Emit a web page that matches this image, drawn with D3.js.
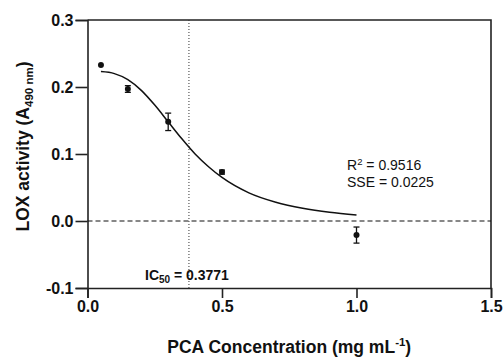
<!doctype html>
<html lang="en">
<head>
  <meta charset="utf-8">
  <script src="https://cdnjs.cloudflare.com/ajax/libs/d3/7.8.5/d3.min.js"></script>
  <style type="text/css">
    body {
      padding: 0;
      margin: 0;
      background: #fff;
    }
    svg text {
      font-family: "Liberation Sans", Arial, sans-serif;
    }
  </style>
</head>
<body>
<svg id="canvas" width="504" height="359"></svg>
<script>

// measured points (mean, sd)
var conc = [0.05, 0.15, 0.3, 0.5, 1.0];
var activity = [0.233, 0.197, 0.148, 0.073, -0.021];
var sd = [0.0, 0.005, 0.013, 0.003, 0.012];

// fitted curve
var fitX = [0.05, 0.1, 0.15, 0.2, 0.25, 0.3, 0.35, 0.4, 0.45, 0.5, 0.6, 0.7, 0.8, 0.9, 1.0];
var fitY = [0.223, 0.220, 0.211, 0.195, 0.173, 0.148, 0.123, 0.100, 0.081, 0.065, 0.042, 0.028, 0.019, 0.013, 0.009];

var xTicks = [0, 0.5, 1.0, 1.5];
var yTicks = [-0.1, 0, 0.1, 0.2, 0.3];
var ic50 = 0.3771;

var svg = d3.select('#canvas');

// plot box (window.top is reserved, so use own names)
var plotL = 87.5, plotR = 491, plotT = 20, plotB = 288;
var x = d3.scaleLinear().domain([0, 1.5]).range([plotL, plotR]);
var y = d3.scaleLinear().domain([-0.1, 0.3]).range([plotB, plotT]);

var axisColor = '#222';
function fmt(d) { return d3.format('.1f')(d).replace('\u2212', '-'); }

// axes
var xAxis = svg.append('g')
  .attr('transform', 'translate(0,' + plotB + ')')
  .call(d3.axisBottom(x).tickValues(xTicks).tickFormat(fmt).tickSize(10).tickPadding(3));
var yAxis = svg.append('g')
  .attr('transform', 'translate(' + plotL + ',0)')
  .call(d3.axisLeft(y).tickValues(yTicks).tickFormat(fmt).tickSize(12).tickPadding(2));

[xAxis, yAxis].forEach(function(g) {
  g.select('.domain').attr('stroke', axisColor).attr('stroke-width', 1.6);
  g.selectAll('.tick line').attr('stroke', axisColor).attr('stroke-width', 1.6);
  g.selectAll('.tick text')
    .attr('fill', '#111')
    .style('font-size', '16px')
    .style('font-weight', 'bold');
});

// frame top + right
svg.append('path')
  .attr('d', 'M' + plotL + ',' + plotT + 'H' + plotR + 'V' + plotB)
  .attr('fill', 'none')
  .attr('stroke', axisColor)
  .attr('stroke-width', 1.6);

// zero line
svg.append('line')
  .attr('x1', plotL).attr('x2', plotR)
  .attr('y1', y(0)).attr('y2', y(0))
  .attr('stroke', '#111')
  .attr('stroke-width', 1.2)
  .attr('stroke-dasharray', '5,3');

// IC50 line
svg.append('line')
  .attr('x1', x(ic50)).attr('x2', x(ic50))
  .attr('y1', plotT).attr('y2', plotB)
  .attr('stroke', '#333')
  .attr('stroke-width', 1)
  .attr('stroke-dasharray', '1,2');

// fit curve
var fit = fitX.map(function(d, i) { return [d, fitY[i]]; });
svg.append('path')
  .datum(fit)
  .attr('d', d3.line()
    .x(function(d) { return x(d[0]); })
    .y(function(d) { return y(d[1]); })
    .curve(d3.curveMonotoneX))
  .attr('fill', 'none')
  .attr('stroke', '#111')
  .attr('stroke-width', 1.5);

// error bars + points
var pts = conc.map(function(d, i) { return { x: d, y: activity[i], e: sd[i] }; });
var capW = 3;
var eb = svg.selectAll('.err').data(pts.filter(function(d) { return d.e > 0; })).enter().append('g');
eb.append('line')
  .attr('x1', function(d) { return x(d.x); })
  .attr('x2', function(d) { return x(d.x); })
  .attr('y1', function(d) { return y(d.y + d.e); })
  .attr('y2', function(d) { return y(d.y - d.e); })
  .attr('stroke', '#111').attr('stroke-width', 1.3);
[1, -1].forEach(function(s) {
  eb.append('line')
    .attr('x1', function(d) { return x(d.x) - capW; })
    .attr('x2', function(d) { return x(d.x) + capW; })
    .attr('y1', function(d) { return y(d.y + s * d.e); })
    .attr('y2', function(d) { return y(d.y + s * d.e); })
    .attr('stroke', '#111').attr('stroke-width', 1.3);
});

svg.selectAll('.pt').data(pts).enter().append('circle')
  .attr('cx', function(d) { return x(d.x); })
  .attr('cy', function(d) { return y(d.y); })
  .attr('r', 3)
  .attr('fill', '#111');

// annotations
var ic = svg.append('text')
  .attr('x', 145).attr('y', 280)
  .style('font-size', '14px')
  .style('font-weight', 'bold')
  .attr('fill', '#111');
ic.append('tspan').text('IC');
ic.append('tspan').text('50').attr('dy', 3).style('font-size', '10px');
ic.append('tspan').text(' = 0.3771').attr('dy', -3);

var r2 = svg.append('text')
  .attr('x', 347).attr('y', 170)
  .style('font-size', '14px')
  .attr('fill', '#111');
r2.append('tspan').text('R');
r2.append('tspan').text('2').attr('dy', -5).style('font-size', '9.5px');
r2.append('tspan').text(' = 0.9516').attr('dy', 5);

svg.append('text')
  .attr('x', 347).attr('y', 187)
  .style('font-size', '14px')
  .attr('fill', '#111')
  .text('SSE = 0.0225');

// axis titles
var xt = svg.append('text')
  .attr('x', (plotL + plotR) / 2).attr('y', 353)
  .attr('text-anchor', 'middle')
  .style('font-size', '17.5px')
  .style('font-weight', 'bold')
  .attr('fill', '#111');
xt.append('tspan').text('PCA Concentration (mg mL');
xt.append('tspan').text('-1').attr('dy', -7).style('font-size', '11.5px');
xt.append('tspan').text(')').attr('dy', 7);

var yt = svg.append('text')
  .attr('transform', 'translate(29,146.5) rotate(-90)')
  .attr('text-anchor', 'middle')
  .style('font-size', '17.5px')
  .style('font-weight', 'bold')
  .attr('fill', '#111');
yt.append('tspan').text('LOX activity (A');
yt.append('tspan').text('490 nm').attr('dy', 4).style('font-size', '11.5px');
yt.append('tspan').text(')').attr('dy', -4);

</script>
</body>
</html>
